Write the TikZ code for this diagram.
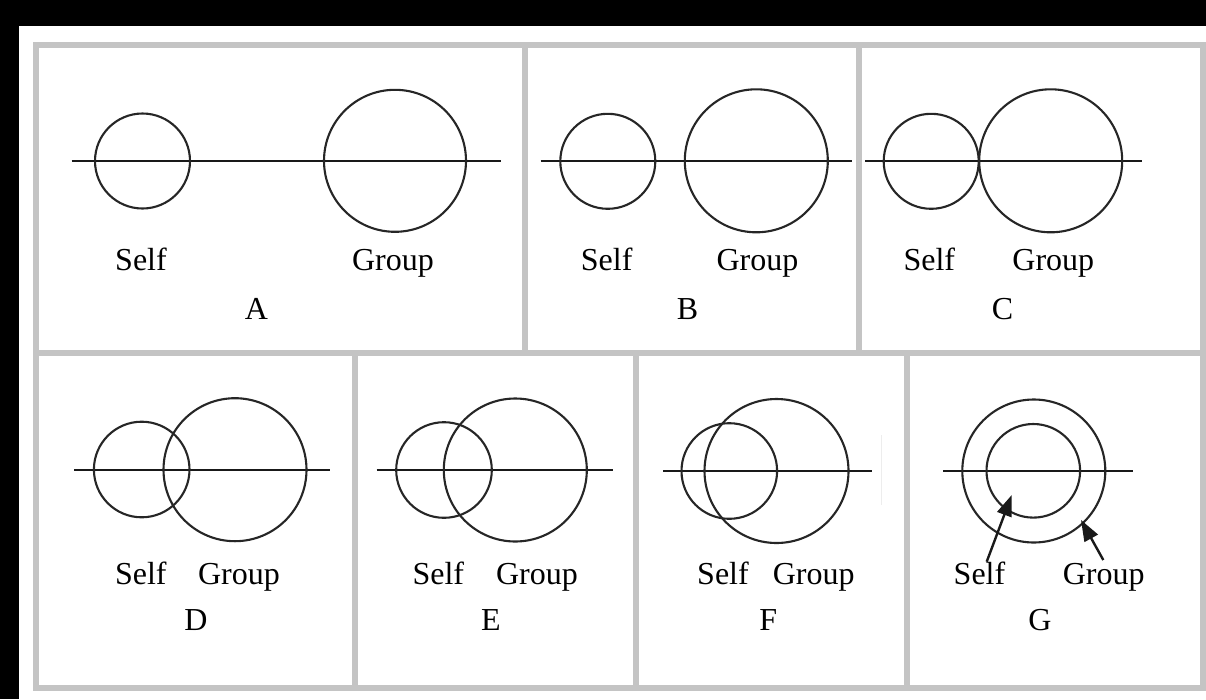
\documentclass[tikz,border=0pt]{standalone}
\usepackage{fontspec}
\setmainfont{Liberation Serif}
\usetikzlibrary{arrows.meta}
\definecolor{framegray}{RGB}{196,196,196}
\begin{document}
\begin{tikzpicture}[x=1pt,y=-1pt,
  frame/.style={draw=framegray, line width=6pt},
  ring/.style={draw=black!85, line width=2.1pt, circle, minimum size=#1, inner sep=0pt, outer sep=0pt},
  axis/.style={draw=black!90, line width=1.9pt},
  lbl/.style={font=\fontsize{32}{38}\selectfont, anchor=base, inner sep=0pt, text=black},
  ptr/.style={draw=black!90, line width=2.4pt, -{Triangle[length=21pt,width=15pt]}}]
\useasboundingbox (0,0) rectangle (1206,699);
\fill[black] (0,0) rectangle (1206,699);
\fill[white] (19,26) rectangle (1206,699);
% frame
\draw[frame] (36,45) rectangle (1203,688);
\draw[frame] (36,352.5) -- (1203,352.5);
\draw[frame] (524.5,45) -- (524.5,352.5);
\draw[frame] (858.5,45) -- (858.5,352.5);
\draw[frame] (355,352.5) -- (355,688);
\draw[frame] (636,352.5) -- (636,688);
\draw[frame] (907,352.5) -- (907,688);
\draw[framegray!30, line width=1pt] (881.7,435) -- (881.7,505);
% Panel A
\coordinate (aL) at (71.7,160.7); \coordinate (aR) at (500.7,160.7);
\draw[axis] (aL) -- (aR);
\node[ring=95pt] (aS) at (142.5,161) {};
\node[ring=142pt] (aG) at (395,160.8) {};
\node[lbl] (aSt) at (141,270) {Self};
\node[lbl] (aGt) at (393,270) {Group};
\node[lbl] (aX) at (256.5,319) {A};
% Panel B
\coordinate (bL) at (540.7,160.7); \coordinate (bR) at (852.3,160.7);
\draw[axis] (bL) -- (bR);
\node[ring=95pt] (bS) at (607.8,161.3) {};
\node[ring=143pt] (bG) at (756.3,160.8) {};
\node[lbl] (bSt) at (606.7,270) {Self};
\node[lbl] (bGt) at (757.5,270) {Group};
\node[lbl] (bX) at (687.5,319) {B};
% Panel C
\coordinate (cL) at (865,160.7); \coordinate (cR) at (1142.3,160.7);
\draw[axis] (cL) -- (cR);
\node[ring=95pt] (cS) at (931.2,161.3) {};
\node[ring=143pt] (cG) at (1050.7,160.8) {};
\node[lbl] (cSt) at (929.3,270) {Self};
\node[lbl] (cGt) at (1053.3,270) {Group};
\node[lbl] (cX) at (1002.5,319) {C};
% Panel D
\coordinate (dL) at (74.3,470); \coordinate (dR) at (330,470);
\draw[axis] (dL) -- (dR);
\node[ring=95.6pt] (dS) at (141.7,469.5) {};
\node[ring=143pt] (dG) at (235,469.7) {};
\node[lbl] (dSt) at (140.8,584) {Self};
\node[lbl] (dGt) at (239,584) {Group};
\node[lbl] (dX) at (196,630.5) {D};
% Panel E
\coordinate (eL) at (376.7,470); \coordinate (eR) at (612.7,470);
\draw[axis] (eL) -- (eR);
\node[ring=95.6pt] (eS) at (444,470) {};
\node[ring=143pt] (eG) at (515.3,470) {};
\node[lbl] (eSt) at (438.3,584) {Self};
\node[lbl] (eGt) at (537,584) {Group};
\node[lbl] (eX) at (491,630.5) {E};
% Panel F
\coordinate (fL) at (663.3,471); \coordinate (fR) at (871.7,471);
\draw[axis] (fL) -- (fR);
\node[ring=95.6pt] (fS) at (729.3,471) {};
\node[ring=144pt] (fG) at (776.5,471) {};
\node[lbl] (fSt) at (723,584) {Self};
\node[lbl] (fGt) at (813.7,584) {Group};
\node[lbl] (fX) at (768.3,630.5) {F};
% Panel G
\coordinate (gL) at (943.3,470.7); \coordinate (gR) at (1132.7,470.7);
\draw[axis] (gL) -- (gR);
\node[ring=93.6pt] (gS) at (1033.3,470.8) {};
\node[ring=143pt] (gG) at (1033.8,471) {};
\node[lbl] (gSt) at (979.5,584) {Self};
\node[lbl] (gGt) at (1103.7,584) {Group};
\node[lbl] (gX) at (1040,630.5) {G};
\coordinate (gSa) at (986.7,561.7); \coordinate (gSb) at (1011.7,495);
\coordinate (gGa) at (1103.3,560); \coordinate (gGb) at (1081,520);
\draw[ptr] (gSa) -- (gSb);
\draw[ptr] (gGa) -- (gGb);
\end{tikzpicture}
\end{document}
